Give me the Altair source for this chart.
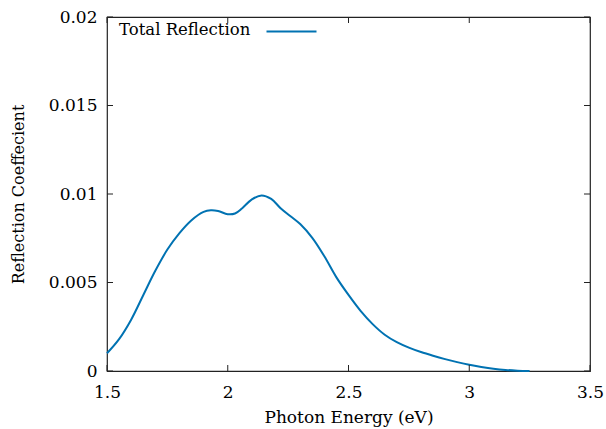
import altair as alt
import pandas as pd

energy = [1.50, 1.55, 1.60, 1.65, 1.70, 1.75, 1.80, 1.85, 1.90, 1.93, 1.96, 2.00,
          2.03, 2.06, 2.10, 2.14, 2.18, 2.22, 2.26, 2.30, 2.35, 2.40, 2.45, 2.50,
          2.55, 2.60, 2.65, 2.70, 2.75, 2.80, 2.85, 2.90, 2.95, 3.00, 3.05, 3.10,
          3.15, 3.20, 3.25]
reflection = [0.00100, 0.00180, 0.00290, 0.00428, 0.00566, 0.00686, 0.00779, 0.00852,
              0.00899, 0.00908, 0.00904, 0.00886, 0.00890, 0.00920, 0.00970, 0.00992,
              0.00972, 0.00918, 0.00874, 0.00830, 0.00752, 0.00648, 0.00529, 0.00430,
              0.00340, 0.00265, 0.00205, 0.00163, 0.00132, 0.00107, 0.00086, 0.00067,
              0.00050, 0.00035, 0.00023, 0.00013, 0.00006, 0.00002, 0.00000]
series_name = "Total Reflection"
x_ticks = [1.5, 2.0, 2.5, 3.0, 3.5]
y_ticks = [0.0, 0.005, 0.01, 0.015, 0.02]

W, H = 483, 354
TICK = 6
FONT = "DejaVu Serif"
FS = 17

df = pd.DataFrame({"energy": energy, "reflection": reflection,
                   "series": [series_name] * len(energy)})
xt = pd.DataFrame({"energy": x_ticks})
yt = pd.DataFrame({"reflection": y_ticks})

xscale = alt.Scale(domain=[1.5, 3.5], nice=False, zero=False)
yscale = alt.Scale(domain=[0, 0.02], nice=False)

line = alt.Chart(df).mark_line(strokeWidth=2, interpolate="catmull-rom").encode(
    x=alt.X("energy:Q", scale=xscale,
            axis=alt.Axis(values=x_ticks, format="~g", title="Photon Energy (eV)",
                          ticks=False, tickSize=0, domain=False, grid=False,
                          labelFlush=False, labelOverlap=False,
                          labelPadding=13, titlePadding=9)),
    y=alt.Y("reflection:Q", scale=yscale,
            axis=alt.Axis(values=y_ticks, format="~g", title="Reflection Coeffecient",
                          titleFontSize=16,
                          ticks=False, tickSize=0, domain=False, grid=False,
                          labelFlush=False, labelOverlap=False,
                          labelPadding=10, titlePadding=22)),
    color=alt.Color("series:N", scale=alt.Scale(range=["#0072b2"]),
                    legend=alt.Legend(orient="none", legendX=12, legendY=13,
                                      title=series_name, titleOrient="left",
                                      titlePadding=39, padding=0,
                                      labelExpr="''", labelFontSize=1,
                                      symbolType="M-50,0H50", symbolSize=1,
                                      symbolStrokeWidth=2,
                                      titleFont=FONT, titleFontSize=16.5,
                                      titleFontWeight="normal", titleColor="black",
                                      titleBaseline="middle", titleAnchor="start")),
)

tick_color = "#222222"
bottom = alt.Chart(xt).mark_rule(color=tick_color).encode(
    x=alt.X("energy:Q", scale=xscale), y=alt.value(H), y2=alt.value(H - TICK))
top = alt.Chart(xt).mark_rule(color=tick_color).encode(
    x=alt.X("energy:Q", scale=xscale), y=alt.value(0), y2=alt.value(TICK))
left = alt.Chart(yt).mark_rule(color=tick_color).encode(
    y=alt.Y("reflection:Q", scale=yscale), x=alt.value(0), x2=alt.value(TICK))
right = alt.Chart(yt).mark_rule(color=tick_color).encode(
    y=alt.Y("reflection:Q", scale=yscale), x=alt.value(W), x2=alt.value(W - TICK))

chart = alt.layer(line, bottom, top, left, right).properties(
    width=W, height=H,
    background="white",
    autosize=alt.AutoSizeParams(type="none"),
    padding={"left": 107, "top": 17, "right": 16, "bottom": 58},
).configure_view(stroke="#222222", strokeWidth=1.2).configure_axis(
    labelFont=FONT, labelFontSize=FS, labelColor="black",
    titleFont=FONT, titleFontSize=FS, titleColor="black", titleFontWeight="normal",
)

chart.save("out.html", embed_options={"renderer": "svg", "actions": False})
